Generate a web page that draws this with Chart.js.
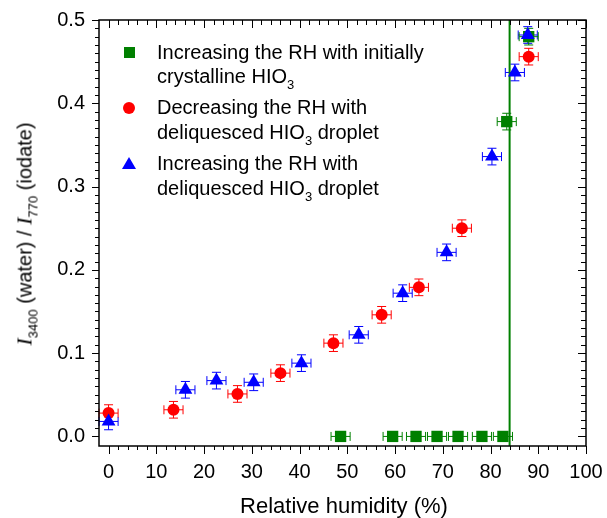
<!DOCTYPE html>
<html>
<head>
<meta charset="utf-8">
<title>HIO3 water uptake</title>
<script src="https://cdn.jsdelivr.net/npm/chart.js@4.4.1/dist/chart.umd.min.js"></script>
<style>
  html, body { margin: 0; padding: 0; background: #fff; }
  #wrap {
    position: relative;
    width: 607px;
    height: 518px;
    overflow: hidden;
    font-family: "Liberation Sans", Arial, sans-serif;
    color: #000;
  }
  #chart { position: absolute; left: 0; top: 0; }
  .leg-line {
    position: absolute;
    left: 157px;
    font-size: 20px;
    line-height: 24px;
    white-space: nowrap;
  }
  .sub { font-size: 13px; position: relative; top: 6px; }
  .mk { position: absolute; }
  .mk-square { left: 124px; top: 47px; width: 11px; height: 11px; background: #008000; }
  .mk-circle { left: 123px; top: 102px; width: 12px; height: 12px; border-radius: 50%; background: #ff0000; }
  .mk-tri {
    left: 122px; top: 157px; width: 0; height: 0;
    border-left: 7px solid transparent;
    border-right: 7px solid transparent;
    border-bottom: 12px solid #0000ff;
  }
  #xtitle {
    position: absolute;
    left: 344px;
    top: 495px;
    transform: translateX(-50%);
    font-size: 22px;
    line-height: 22px;
    white-space: nowrap;
  }
  #ytitle {
    position: absolute;
    left: 26px;
    top: 234px;
    transform: translate(-50%, -50%) rotate(-90deg);
    font-size: 20px;
    line-height: 24px;
    white-space: nowrap;
  }
  #ytitle i { font-family: "Liberation Serif", "Times New Roman", serif; font-size: 22px; }
</style>
</head>
<body>
<div id="wrap">
  <canvas id="chart" width="607" height="518"></canvas>

  <div class="mk mk-square"></div>
  <div class="leg-line" style="top:40px">Increasing the RH with initially</div>
  <div class="leg-line" style="top:64px">crystalline HIO<span class="sub">3</span></div>

  <div class="mk mk-circle"></div>
  <div class="leg-line" style="top:95px">Decreasing the RH with</div>
  <div class="leg-line" style="top:120px">deliquesced HIO<span class="sub">3</span> droplet</div>

  <div class="mk mk-tri"></div>
  <div class="leg-line" style="top:151px">Increasing the RH with</div>
  <div class="leg-line" style="top:176px">deliquesced HIO<span class="sub">3</span> droplet</div>

  <div id="xtitle">Relative humidity (%)</div>
  <div id="ytitle"><i>I</i><span class="sub">3400</span> (water) / <i>I</i><span class="sub">770</span> (iodate)</div>
</div>

<script>
const RH_TICKS = [0, 10, 20, 30, 40, 50, 60, 70, 80, 90, 100];
const RATIO_TICKS = [0, 0.1, 0.2, 0.3, 0.4, 0.5];

// increasing RH, starting from crystalline HIO3
const CRYST_RH = [48.6, 59.5, 64.4, 68.8, 73.2, 78.2, 82.6, 83.4, 88.0];
const CRYST_RATIO = [0, 0, 0, 0, 0, 0, 0, 0.378, 0.48];
const CRYST_RATIO_ERR = [0, 0, 0, 0, 0, 0, 0, 0.01, 0.01];

// decreasing RH, deliquesced droplet
const DEC_RH = [0, 13.6, 27.0, 36.0, 47.1, 57.2, 65.0, 74.0, 88.0];
const DEC_RATIO = [0.028, 0.032, 0.051, 0.076, 0.112, 0.146, 0.179, 0.25, 0.456];
const DEC_RATIO_ERR = [0.01, 0.01, 0.01, 0.01, 0.01, 0.01, 0.01, 0.01, 0.01];

// increasing RH, deliquesced droplet
const INC_RH = [0, 16.1, 22.6, 30.4, 40.4, 52.4, 61.6, 70.8, 80.3, 85.1, 87.8];
const INC_RATIO = [0.018, 0.056, 0.067, 0.065, 0.088, 0.122, 0.172, 0.221, 0.336, 0.437, 0.482];
const INC_RATIO_ERR = [0.01, 0.01, 0.01, 0.01, 0.01, 0.01, 0.01, 0.01, 0.01, 0.01, 0.01];

const RH_ERR = 2;
const DRH = 84;

const GREEN = "#008000";
const RED = "#ff0000";
const BLUE = "#0000ff";
const FONT = "'Liberation Sans', Arial, sans-serif";

function toPoints(xs, ys) {
  return xs.map((x, i) => ({ x, y: ys[i] }));
}

// error bars are kept on the dataset as xErr / yErr
const errorBars = {
  id: "errorBars",
  beforeDatasetsDraw(chart) {
    const { ctx, scales: { x, y } } = chart;
    const cap = 4.5;
    ctx.save();
    ctx.lineWidth = 1;
    chart.data.datasets.forEach((ds) => {
      if (!ds.yErr) return;
      ctx.strokeStyle = ds.borderColor;
      ds.data.forEach((p, i) => {
        const px = x.getPixelForValue(p.x);
        const py = y.getPixelForValue(p.y);
        const xl = x.getPixelForValue(p.x - ds.xErr);
        const xr = x.getPixelForValue(p.x + ds.xErr);
        ctx.beginPath();
        ctx.moveTo(xl, py); ctx.lineTo(xr, py);
        ctx.moveTo(xl, py - cap); ctx.lineTo(xl, py + cap);
        ctx.moveTo(xr, py - cap); ctx.lineTo(xr, py + cap);
        const e = ds.yErr[i];
        if (e > 0) {
          const yt = y.getPixelForValue(p.y + e);
          const yb = y.getPixelForValue(p.y - e);
          ctx.moveTo(px, yt); ctx.lineTo(px, yb);
          ctx.moveTo(px - cap, yt); ctx.lineTo(px + cap, yt);
          ctx.moveTo(px - cap, yb); ctx.lineTo(px + cap, yb);
        }
        ctx.stroke();
      });
    });
    ctx.restore();
  },
};

// box frame with outward ticks bottom/left and inward ticks top/right
const frameTicks = {
  id: "frameTicks",
  afterDraw(chart) {
    const { ctx, chartArea: a, scales: { x, y } } = chart;
    ctx.save();
    ctx.strokeStyle = "#000";
    ctx.lineWidth = 1;
    ctx.beginPath();
    for (let v = 0; v <= 100; v += 2) {
      const px = Math.round(x.getPixelForValue(v)) + 0.5;
      const major = v % 10 === 0;
      ctx.moveTo(px, a.bottom); ctx.lineTo(px, a.bottom + (major ? 8 : 4));
      ctx.moveTo(px, a.top); ctx.lineTo(px, a.top + (major ? 8 : 5));
    }
    for (let i = 0; i <= 50; i++) {
      const py = Math.round(y.getPixelForValue(i / 100)) + 0.5;
      const major = i % 10 === 0;
      ctx.moveTo(a.left, py); ctx.lineTo(a.left - (major ? 7 : 4), py);
      ctx.moveTo(a.right, py); ctx.lineTo(a.right - (major ? 8 : 5), py);
    }
    ctx.stroke();
    ctx.lineWidth = 1.5;
    ctx.strokeRect(a.left, a.top, a.right - a.left, a.bottom - a.top);
    ctx.restore();
  },
};

new Chart(document.getElementById("chart"), {
  type: "scatter",
  data: {
    datasets: [
      {
        label: "Increasing the RH with deliquesced HIO3 droplet",
        data: toPoints(INC_RH, INC_RATIO),
        xErr: RH_ERR,
        yErr: INC_RATIO_ERR,
        pointStyle: "triangle",
        pointRadius: 8,
        backgroundColor: BLUE,
        borderColor: BLUE,
        borderWidth: 0,
        order: 0,
      },
      {
        label: "Decreasing the RH with deliquesced HIO3 droplet",
        data: toPoints(DEC_RH, DEC_RATIO),
        xErr: RH_ERR,
        yErr: DEC_RATIO_ERR,
        pointStyle: "circle",
        pointRadius: 6,
        backgroundColor: RED,
        borderColor: RED,
        borderWidth: 0,
        order: 1,
      },
      {
        label: "Increasing the RH with initially crystalline HIO3",
        data: toPoints(CRYST_RH, CRYST_RATIO),
        xErr: RH_ERR,
        yErr: CRYST_RATIO_ERR,
        pointStyle: "rect",
        pointRadius: 8,
        backgroundColor: GREEN,
        borderColor: GREEN,
        borderWidth: 0,
        order: 2,
      },
      {
        type: "line",
        label: "DRH",
        data: [{ x: DRH, y: -1 }, { x: DRH, y: 1 }],
        borderColor: GREEN,
        borderWidth: 2,
        pointRadius: 0,
        order: 3,
      },
    ],
  },
  options: {
    responsive: false,
    animation: false,
    events: [],
    layout: { padding: { left: 0, right: 21, top: 20, bottom: 0 } },
    plugins: { legend: { display: false }, tooltip: { enabled: false } },
    scales: {
      x: {
        type: "linear",
        min: -2,
        max: 100,
        grid: { display: false, drawTicks: false },
        border: { display: false },
        afterBuildTicks: (s) => { s.ticks = RH_TICKS.map((v) => ({ value: v })); },
        afterFit: (s) => {
          s.height = 72;
          s.paddingLeft = 0;
          s.paddingRight = 0;
        },
        ticks: {
          padding: 14,
          color: "#000",
          font: { family: FONT, size: 20 },
          maxRotation: 0,
          autoSkip: false,
          callback: (v) => String(v),
        },
      },
      y: {
        type: "linear",
        min: -0.0115,
        max: 0.5,
        grid: { display: false, drawTicks: false },
        border: { display: false },
        afterBuildTicks: (s) => { s.ticks = RATIO_TICKS.map((v) => ({ value: v })); },
        afterFit: (s) => {
          s.width = 99;
          s.paddingTop = 0;
          s.paddingBottom = 0;
        },
        ticks: {
          padding: 14,
          color: "#000",
          font: { family: FONT, size: 20 },
          autoSkip: false,
          callback: (v) => v.toFixed(1),
        },
      },
    },
  },
  plugins: [errorBars, frameTicks],
});
</script>
</body>
</html>
